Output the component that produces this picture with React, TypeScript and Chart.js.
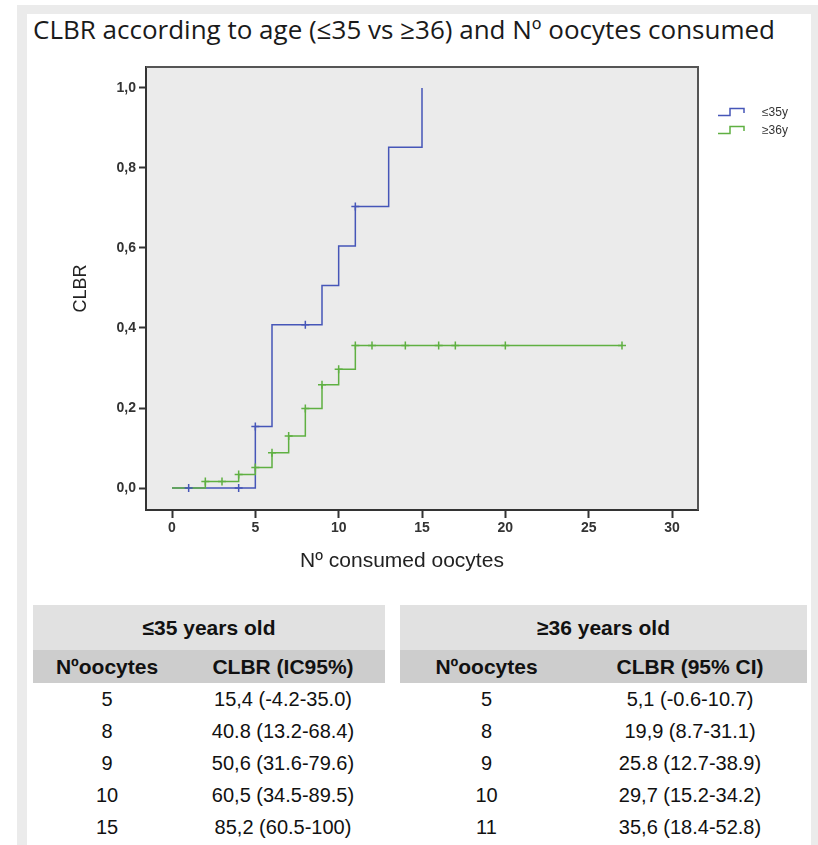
import React, { useEffect, useRef } from "react";
import { Chart, registerables } from "chart.js";

Chart.register(...registerables);

// ---- Data ----
const blueEventX = [0, 5, 6, 9, 10, 11, 13, 15];
const blueCLBR = [0, 0.154, 0.408, 0.506, 0.605, 0.704, 0.852, 1.0];
const blueCensorX = [1, 4, 5, 8, 11];

const greenEventX = [0, 2, 4, 5, 6, 7, 8, 9, 10, 11, 27];
const greenCLBR = [0, 0.016, 0.034, 0.051, 0.088, 0.13, 0.199, 0.258, 0.297, 0.356, 0.356];
const greenCensorX = [2, 3, 4, 5, 6, 7, 8, 9, 10, 11, 12, 14, 16, 17, 20, 27];

const xTicks = [0, 5, 10, 15, 20, 25, 30];
const yTicks = [0, 0.2, 0.4, 0.6, 0.8, 1.0];

const seriesLabels = ["≤35y", "≥36y"];

const titleText = "CLBR according to age (≤35 vs ≥36) and Nº oocytes consumed";
const xTitle = "Nº consumed oocytes";
const yTitle = "CLBR";

const youngHeader = "≤35 years old";
const youngCols = ["Nºoocytes", "CLBR (IC95%)"];
const youngOocytes = ["5", "8", "9", "10", "15"];
const youngCLBR = ["15,4 (-4.2-35.0)", "40.8 (13.2-68.4)", "50,6 (31.6-79.6)", "60,5 (34.5-89.5)", "85,2 (60.5-100)"];

const olderHeader = "≥36 years old";
const olderCols = ["Nºoocytes", "CLBR (95% CI)"];
const olderOocytes = ["5", "8", "9", "10", "11"];
const olderCLBR = ["5,1 (-0.6-10.7)", "19,9 (8.7-31.1)", "25.8 (12.7-38.9)", "29,7 (15.2-34.2)", "35,6 (18.4-52.8)"];

// ---- Styles ----
const BLUE = "#4656b8";
const GREEN = "#5fb042";
const FONT = "'Liberation Sans', Arial, sans-serif";

function stepValueAt(xs: number[], ys: number[], x: number) {
  let v = ys[0];
  for (let i = 0; i < xs.length; i++) if (xs[i] <= x) v = ys[i];
  return v;
}

function Table(props: {
  left: number; width: number; col1: number; header: string; cols: string[]; a: string[]; b: string[];
}) {
  const { left, width, col1, header, cols, a, b } = props;
  const cell: React.CSSProperties = { textAlign: "center", padding: 0 };
  return (
    <div style={{ position: "absolute", left, top: 605, width, fontFamily: FONT, color: "#111" }}>
      <div style={{ height: 45, lineHeight: "45px", background: "#e1e1e1", textAlign: "center", fontWeight: "bold", fontSize: 21 }}>
        {header}
      </div>
      <div style={{ height: 33, lineHeight: "33px", background: "#cdcdcd", display: "flex", fontWeight: "bold", fontSize: 21 }}>
        <div style={{ ...cell, width: col1 }}>{cols[0]}</div>
        <div style={{ ...cell, flex: 1 }}>{cols[1]}</div>
      </div>
      {a.map((v, i) => (
        <div key={i} style={{ height: 32, lineHeight: "32px", display: "flex", fontSize: 20 }}>
          <div style={{ ...cell, width: col1 }}>{v}</div>
          <div style={{ ...cell, flex: 1 }}>{b[i]}</div>
        </div>
      ))}
    </div>
  );
}

export default function App() {
  const canvasRef = useRef<HTMLCanvasElement>(null);

  useEffect(() => {
    document.body.style.margin = "0";
    const canvas = canvasRef.current;
    if (!canvas) return;

    const blueLine = blueEventX.map((x, i) => ({ x, y: blueCLBR[i] }));
    const greenLine = greenEventX.map((x, i) => ({ x, y: greenCLBR[i] }));
    const blueCens = blueCensorX.map((x) => ({ x, y: stepValueAt(blueEventX, blueCLBR, x) }));
    const greenCens = greenCensorX.map((x) => ({ x, y: stepValueAt(greenEventX, greenCLBR, x) }));

    const framePlugin = {
      id: "frame",
      beforeDraw(chart: any) {
        const { ctx, chartArea: a } = chart;
        ctx.save();
        ctx.fillStyle = "#ebebeb";
        ctx.fillRect(a.left, a.top, a.right - a.left, a.bottom - a.top);
        ctx.restore();
      },
      beforeDatasetsDraw(chart: any) {
        const { ctx, chartArea: a } = chart;
        ctx.save();
        ctx.strokeStyle = "#555";
        ctx.lineWidth = 2;
        ctx.beginPath();
        ctx.moveTo(a.left, a.top);
        ctx.lineTo(a.right, a.top);
        ctx.lineTo(a.right, a.bottom);
        ctx.stroke();
        ctx.restore();
      },
      afterDraw(chart: any) {
        const { ctx, chartArea: a } = chart;
        const colors = [BLUE, GREEN];
        ctx.save();
        // x-axis title
        ctx.fillStyle = "#222";
        ctx.font = `21px ${FONT}`;
        ctx.textAlign = "center";
        ctx.textBaseline = "middle";
        ctx.fillText(xTitle, (a.left + a.right) / 2 - 20, a.bottom + 51);
        // legend
        seriesLabels.forEach((lab, i) => {
          const cy = a.top + 46 + i * 18;
          const x0 = a.right + 20;
          ctx.strokeStyle = colors[i];
          ctx.lineWidth = 1.5;
          ctx.beginPath();
          ctx.moveTo(x0, cy + 2.5);
          ctx.lineTo(x0 + 12, cy + 2.5);
          ctx.lineTo(x0 + 12, cy - 4.5);
          ctx.lineTo(x0 + 26, cy - 4.5);
          ctx.lineTo(x0 + 26, cy);
          ctx.stroke();
          ctx.fillStyle = "#333";
          ctx.font = `12px ${FONT}`;
          ctx.textBaseline = "middle";
          ctx.textAlign = "left";
          ctx.fillText(lab, a.right + 64, cy);
        });
        ctx.restore();
      },
    };

    const chart = new Chart(canvas, {
      type: "scatter",
      data: {
        datasets: [
          { label: seriesLabels[0], data: blueLine, showLine: true, stepped: "before", borderColor: BLUE, borderWidth: 1.5, pointRadius: 0, fill: false, order: 2 } as any,
          { label: seriesLabels[1], data: greenLine, showLine: true, stepped: "before", borderColor: GREEN, borderWidth: 1.5, pointRadius: 0, fill: false, order: 1 } as any,
          { label: "c1", data: blueCens, showLine: false, pointStyle: "cross", pointRadius: 4, borderColor: BLUE, borderWidth: 1.5, order: 0 } as any,
          { label: "c2", data: greenCens, showLine: false, pointStyle: "cross", pointRadius: 4, borderColor: GREEN, borderWidth: 1.5, order: 0 } as any,
        ],
      },
      options: {
        animation: false,
        responsive: false,
        maintainAspectRatio: false,
        events: [],
        layout: { padding: { left: 0, top: 17, right: 113, bottom: 0 } },
        plugins: { legend: { display: false }, tooltip: { enabled: false } },
        scales: {
          x: {
            type: "linear",
            min: -1.56,
            max: 31.56,
            afterBuildTicks: (s: any) => { s.ticks = xTicks.map((v) => ({ value: v })); },
            afterFit: (s: any) => { s.height = 70; },
            grid: { drawOnChartArea: false, drawTicks: true, tickLength: 8, tickColor: "#333", tickWidth: 2 },
            border: { display: true, color: "#333", width: 2 },
            ticks: { font: { family: FONT, size: 14, weight: "bold" }, color: "#333", padding: 2, maxRotation: 0, autoSkip: false },
            title: { display: false, text: xTitle },
          },
          y: {
            type: "linear",
            min: -0.055,
            max: 1.0525,
            afterBuildTicks: (s: any) => { s.ticks = yTicks.map((v) => ({ value: v })); },
            afterFit: (s: any) => { s.width = 119; },
            grid: { drawOnChartArea: false, drawTicks: true, tickLength: 7, tickColor: "#333", tickWidth: 2 },
            border: { display: true, color: "#333", width: 2 },
            ticks: {
              font: { family: FONT, size: 14, weight: "bold" },
              color: "#333",
              padding: 3,
              autoSkip: false,
              callback: (v: any) => Number(v).toFixed(1).replace(".", ","),
            },
            title: { display: true, text: yTitle, font: { family: FONT, size: 18 }, color: "#222", padding: { top: 43, bottom: 0 } },
          },
        },
      },
      plugins: [framePlugin],
    } as any);

    return () => chart.destroy();
  }, []);

  return (
    <div style={{ position: "relative", width: 818, height: 845, background: "#fff", overflow: "hidden" }}>
      <div style={{ position: "absolute", left: 17, top: 5, width: 801, height: 840, background: "#ebebeb" }} />
      <div style={{ position: "absolute", left: 27, top: 14, width: 784, height: 831, background: "#fff" }} />
      <div
        style={{
          position: "absolute",
          left: 33,
          top: 16,
          fontFamily: "'Open Sans', sans-serif",
          fontSize: 26,
          lineHeight: "26px",
          color: "#1a1a1a",
          whiteSpace: "nowrap",
        }}
      >
        {titleText}
      </div>
      <canvas ref={canvasRef} width={784} height={530} style={{ position: "absolute", left: 27, top: 50, width: 784, height: 530 }} />
      <Table left={33} width={352} col1={148} header={youngHeader} cols={youngCols} a={youngOocytes} b={youngCLBR} />
      <Table left={400} width={407} col1={173} header={olderHeader} cols={olderCols} a={olderOocytes} b={olderCLBR} />
    </div>
  );
}
